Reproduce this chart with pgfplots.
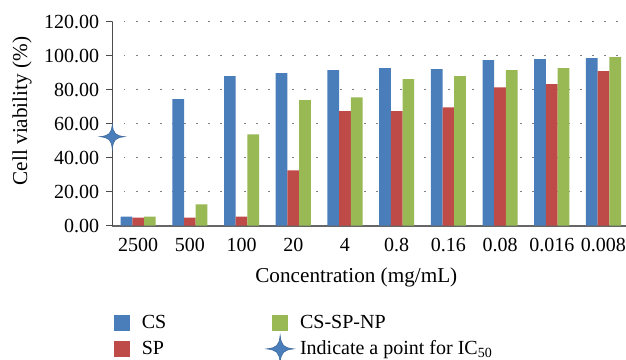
\documentclass[border=0pt]{standalone}
\usepackage{fontspec}
\setmainfont{Liberation Serif}
\usepackage{pgfplots}
\pgfplotsset{compat=1.18}
\definecolor{csblue}{HTML}{4A7EBB}
\definecolor{spred}{HTML}{BE4B48}
\definecolor{npgreen}{HTML}{98B954}
\definecolor{starblue}{HTML}{4A7EBB}
\definecolor{gridgray}{HTML}{7F7F7F}
\pgfdeclareplotmark{star4}{%
  \pgfpathmoveto{\pgfqpoint{0pt}{\pgfplotmarksize}}%
  \pgfpathcurveto{\pgfqpoint{0.08\pgfplotmarksize}{0.25\pgfplotmarksize}}{\pgfqpoint{0.25\pgfplotmarksize}{0.08\pgfplotmarksize}}{\pgfqpoint{\pgfplotmarksize}{0pt}}%
  \pgfpathcurveto{\pgfqpoint{0.25\pgfplotmarksize}{-0.08\pgfplotmarksize}}{\pgfqpoint{0.08\pgfplotmarksize}{-0.25\pgfplotmarksize}}{\pgfqpoint{0pt}{-\pgfplotmarksize}}%
  \pgfpathcurveto{\pgfqpoint{-0.08\pgfplotmarksize}{-0.25\pgfplotmarksize}}{\pgfqpoint{-0.25\pgfplotmarksize}{-0.08\pgfplotmarksize}}{\pgfqpoint{-\pgfplotmarksize}{0pt}}%
  \pgfpathcurveto{\pgfqpoint{-0.25\pgfplotmarksize}{0.08\pgfplotmarksize}}{\pgfqpoint{-0.08\pgfplotmarksize}{0.25\pgfplotmarksize}}{\pgfqpoint{0pt}{\pgfplotmarksize}}%
  \pgfpathclose
  \pgfusepathqfillstroke
}
\pgfplotstableread{
x cs sp np
0 5.3 4.7 5.3
1 74.4 4.7 12.4
2 87.9 5.3 53.7
3 89.7 32.5 73.8
4 91.5 67.3 75.5
5 92.7 67.3 86.2
6 92.1 69.6 87.9
7 97.4 81.4 91.5
8 98.0 83.2 92.7
9 98.6 90.9 99.2
}\datatable
\begin{document}
\begin{tikzpicture}
\begin{axis}[
  scale only axis,
  width=256.85pt, height=101.9pt,
  xmin=-0.5, xmax=9.436,
  ymin=0, ymax=120,
  clip=false,
  axis x line*=bottom, axis y line*=left,
  x axis line style={-, draw=black!60, line width=1pt},
  y axis line style={-, draw=black!70, line width=0.6pt},
  xtick={0,...,9},
  xticklabels={2500,500,100,20,4,0.8,0.16,0.08,0.016,0.008},
  xtick style={draw=none},
  extra x ticks={-0.5,0.5,...,8.5},
  extra x tick labels={},
  extra x tick style={grid=none, tick style={draw=black!70, line width=0.6pt}},
  ytick={0,20,...,120},
  ytick style={draw=black!70, line width=0.6pt},
  tick align=outside,
  major tick length=3pt,
  ymajorgrids,
  grid style={draw=gridgray, line width=0.6pt, dash pattern=on 0.6pt off 5.4pt},
  yticklabel style={/pgf/number format/.cd, fixed, fixed zerofill, precision=2, assume math mode=true},
  tick label style={font=\fontsize{10}{12}\selectfont},
  xlabel={Concentration (mg/mL)},
  ylabel={Cell viability (\%)},
  label style={font=\fontsize{10.6}{12}\selectfont},
  xlabel style={at={(axis description cs:0.475,-0.282)}, anchor=base},
  ylabel style={at={(axis description cs:-0.1758,0.562)}, anchor=center},
  legend columns=2,
  legend cell align=left,
  legend style={draw=none, fill=none, inner sep=0pt, outer sep=0pt,
    at={(rel axis cs:0.0033,-0.42)}, anchor=north west,
    font=\fontsize{10}{12}\selectfont, row sep=0.5pt,
    /tikz/every odd column/.append style={column sep=4pt},
    /tikz/every even column/.append style={column sep=51pt}},
]
\addplot[ybar, bar width=5.85pt, bar shift=-5.85pt, fill=csblue, draw=none, forget plot] table[x=x, y=cs] {\datatable};
\addplot[ybar, bar width=5.85pt, bar shift=0pt, fill=spred, draw=none, forget plot] table[x=x, y=sp] {\datatable};
\addplot[ybar, bar width=5.85pt, bar shift=5.85pt, fill=npgreen, draw=none, forget plot] table[x=x, y=np] {\datatable};
\addplot[only marks, mark=star4, mark size=6.2pt, draw=starblue!85!black, fill=starblue, line width=0.3pt, forget plot] coordinates {(-0.5,52.3)};
\addlegendimage{legend image code/.code={\fill[csblue] (0pt,-3.75pt) rectangle (7.5pt,3.75pt);}}
\addlegendentry{CS}
\addlegendimage{legend image code/.code={\fill[npgreen] (0pt,-3.75pt) rectangle (7.5pt,3.75pt);}}
\addlegendentry{CS-SP-NP}
\addlegendimage{legend image code/.code={\fill[spred] (0pt,-3.75pt) rectangle (7.5pt,3.75pt);}}
\addlegendentry{SP}
\addlegendimage{legend image code/.code={\path[draw=none, fill=none] (0pt,-3.75pt) rectangle (7.5pt,3.75pt); \draw[overlay, mark=star4, mark size=6.8pt, draw=starblue!85!black, fill=starblue, line width=0.3pt] plot coordinates {(3.75pt,0pt)};}}
\addlegendentry{Indicate a point for IC\textsubscript{50}}
\end{axis}
\pgfresetboundingbox
\path[use as bounding box] (-56.15pt,-66.75pt) rectangle (256.85pt,112.75pt);
\end{tikzpicture}
\end{document}
